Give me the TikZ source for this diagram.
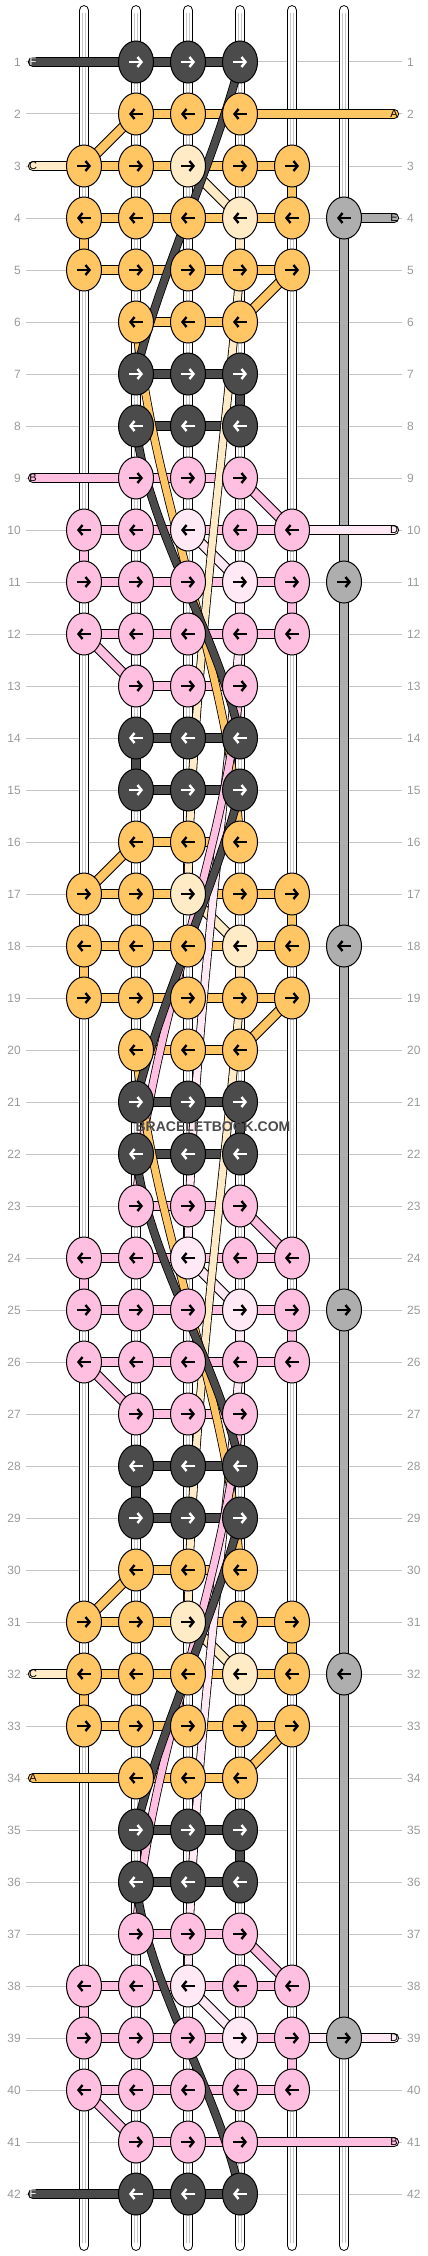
\documentclass[tikz,border=0pt]{standalone}
\usepackage{fontspec}
\setmainfont{Liberation Sans}
\usepackage{tikz}
\usetikzlibrary{shapes.geometric, arrows.meta}

\definecolor{kdark}{HTML}{4B4B4B}
\definecolor{korange}{HTML}{FFC663}
\definecolor{kcream}{HTML}{FFEBC6}
\definecolor{kpink}{HTML}{FFBFE1}
\definecolor{klight}{HTML}{FFE9F4}
\definecolor{kgray}{HTML}{AEAEAE}
\definecolor{rowline}{HTML}{C4C4C4}
\definecolor{tubeline}{HTML}{C8C8C8}
\definecolor{numgray}{HTML}{9A9A9A}

\pgfdeclarelayer{lines}
\pgfdeclarelayer{tubes}
\pgfdeclarelayer{bars}
\pgfdeclarelayer{floats}
\pgfsetlayers{lines,tubes,bars,floats,main}

\begin{document}
\begin{tikzpicture}[x=1pt, y=-1pt]
            % Define knot and strand styles
            \tikzset{
              knot/.style={draw, ellipse, line width=1pt, minimum width=35pt, minimum height=42pt, inner sep=0pt, fill=#1},
              knarrow/.style={draw=#1, line width=2.4pt, -{Straight Barb[length=4pt, width=10pt]}},
              goright/.style={path picture={\draw[knarrow=#1] ([xshift=-7pt]path picture bounding box.center) -- ([xshift=7pt]path picture bounding box.center);}},
              goleft/.style={path picture={\draw[knarrow=#1] ([xshift=7pt]path picture bounding box.center) -- ([xshift=-7pt]path picture bounding box.center);}},
              bR/.style={goright=black}, bL/.style={goleft=black},
              wR/.style={goright=white}, wL/.style={goleft=white},
              kbar/.style={line width=1pt, double=#1, double distance=8.3pt},
              loose/.style={line width=0.8pt, double=#1, double distance=7pt},
              tube/.style={line width=1pt, double=white, double distance=8.8pt, line cap=round},
              endtag/.style={font=\fontsize{11}{11}\selectfont, inner sep=0pt},
              rownum/.style={font=\fontsize{12}{12}\selectfont, text=numgray, inner sep=0pt}
            }
            \useasboundingbox (0,0) rectangle (428,2256);

            % Knots, one block of 14 rows repeated three times
            \foreach \p in {0,14,28}{
              \foreach \r/\dir/\ks in {
                1/wR/{2/kdark,3/kdark,4/kdark},
                2/bL/{2/korange,3/korange,4/korange},
                3/bR/{1/korange,2/korange,3/kcream,4/korange,5/korange},
                4/bL/{1/korange,2/korange,3/korange,4/kcream,5/korange,6/kgray},
                5/bR/{1/korange,2/korange,3/korange,4/korange,5/korange},
                6/bL/{2/korange,3/korange,4/korange},
                7/wR/{2/kdark,3/kdark,4/kdark},
                8/wL/{2/kdark,3/kdark,4/kdark},
                9/bR/{2/kpink,3/kpink,4/kpink},
                10/bL/{1/kpink,2/kpink,3/klight,4/kpink,5/kpink},
                11/bR/{1/kpink,2/kpink,3/kpink,4/klight,5/kpink,6/kgray},
                12/bL/{1/kpink,2/kpink,3/kpink,4/kpink,5/kpink},
                13/bR/{2/kpink,3/kpink,4/kpink},
                14/wL/{2/kdark,3/kdark,4/kdark}}{
                \pgfmathtruncatemacro{\row}{\p+\r}
                \foreach \c/\f in \ks
                  \node[knot=\f, \dir] (k\row-\c) at (32+52*\c, 10+52*\row) {};
              }
            }

            % Strand ends with letters
            \node[endtag, text=white] (tF1) at (33,62) {F};
            \node[endtag] (tA1) at (394,114) {A};
            \node[endtag] (tC1) at (33,166) {C};
            \node[endtag] (tE1) at (394,218) {E};
            \node[endtag] (tB1) at (33,478) {B};
            \node[endtag] (tD1) at (394,530) {D};
            \node[endtag] (tC2) at (33,1674) {C};
            \node[endtag] (tA2) at (33,1778) {A};
            \node[endtag] (tD2) at (394,2038) {D};
            \node[endtag] (tB2) at (394,2142) {B};
            \node[endtag, text=white] (tF2) at (33,2194) {F};

            \node[font=\bfseries\fontsize{14}{14}\selectfont, text=kdark, inner sep=0pt] (mark) at (213,1127) {BRACELETBOOK.COM};

            % Row guides and numbers
            \begin{pgfonlayer}{lines}
              \fill[white] (0,0) rectangle (428,2256);
              \foreach \row in {1,...,42}{
                \draw[rowline, line width=1pt] (26,10+52*\row) -- (402,10+52*\row);
                \node[rownum, anchor=east] (nl\row) at (21,10+52*\row) {\row};
                \node[rownum, anchor=west] (nr\row) at (407,10+52*\row) {\row};
              }
            \end{pgfonlayer}

            % Empty tracks and the side strand
            \begin{pgfonlayer}{tubes}
              \foreach \c in {1,...,6}{
                \draw[tube] (32+52*\c,10.5) -- (32+52*\c,2245.5);
                \draw[draw=tubeline, line width=0.7pt, double=white, double distance=2.6pt] (32+52*\c,13) -- (32+52*\c,2243);
              }
              \draw[line width=1pt, double=kgray, double distance=8.8pt] (k4-6.center) -- (k39-6.center);
            \end{pgfonlayer}

            % Strands between knots
            \begin{pgfonlayer}{bars}
              \foreach \p in {0,14,28}{
                \foreach \r/\a/\b/\f in {1/2/4/kdark, 2/2/4/korange, 3/1/5/korange, 4/1/5/korange, 5/1/5/korange, 6/2/4/korange, 7/2/4/kdark, 8/2/4/kdark, 9/2/4/kpink, 10/1/5/kpink, 11/1/5/kpink, 12/1/5/kpink, 13/2/4/kpink, 14/2/4/kdark}{
                  \pgfmathtruncatemacro{\row}{\p+\r}
                  \draw[kbar=\f] (k\row-\a.center) -- (k\row-\b.center);
                }
                \foreach \r/\c/\f/\last in {3/5/korange/1, 4/1/korange/1, 4/4/kcream/0, 7/4/kdark/1, 10/1/kpink/1, 11/4/klight/0, 11/5/kpink/1, 14/2/kdark/0}{
                  \pgfmathtruncatemacro{\row}{\p+\r}
                  \pgfmathtruncatemacro{\nxt}{\row+1}
                  \pgfmathtruncatemacro{\keep}{(\p<28)||(\last==1)}
                  \ifnum\keep=1 \draw[kbar=\f] (k\row-\c.center) -- (k\nxt-\c.center); \fi
                }
                \foreach \r/\a/\b/\f in {2/2/1/korange, 3/3/4/kcream, 5/5/4/korange, 9/4/5/kpink, 10/3/4/klight, 12/1/2/kpink}{
                  \pgfmathtruncatemacro{\row}{\p+\r}
                  \pgfmathtruncatemacro{\nxt}{\row+1}
                  \draw[kbar=\f] (k\row-\a.center) -- (k\nxt-\b.center);
                }
              }
              \draw[kbar=kdark, line cap=round] (tF1.center) -- (k1-2.center);
              \draw[kbar=korange, line cap=round] (k2-4.center) -- (tA1.center);
              \draw[kbar=kcream, line cap=round] (tC1.center) -- (k3-1.center);
              \draw[kbar=kgray, line cap=round] (k4-6.center) -- (tE1.center);
              \draw[kbar=kpink, line cap=round] (tB1.center) -- (k9-2.center);
              \draw[kbar=klight, line cap=round] (k10-5.center) -- (tD1.center);
              \draw[kbar=kcream, line cap=round] (tC2.center) -- (k32-1.center);
              \draw[kbar=korange, line cap=round] (tA2.center) -- (k34-2.center);
              \draw[kbar=klight, line cap=round] (k39-5.center) -- (tD2.center);
              \draw[kbar=kpink, line cap=round] (k41-4.center) -- (tB2.center);
              \draw[kbar=kdark, line cap=round] (tF2.center) -- (k42-2.center);
            \end{pgfonlayer}

            % Strands carried behind the knots
            \begin{pgfonlayer}{floats}
              \foreach \p in {0,14}{
                \pgfmathtruncatemacro{\ra}{\p+5}  \pgfmathtruncatemacro{\rb}{\p+17}
                \pgfmathtruncatemacro{\rc}{\p+12} \pgfmathtruncatemacro{\rd}{\p+24}
                \pgfmathtruncatemacro{\re}{\p+6}  \pgfmathtruncatemacro{\rf}{\p+16}
                \pgfmathtruncatemacro{\rg}{\p+13} \pgfmathtruncatemacro{\rh}{\p+23}
                \draw[loose=kcream] (k\ra-4.center) .. controls +(-12,150) and +(2,-200) .. (k\rb-3.center);
                \draw[loose=klight] (k\rc-4.center) .. controls +(-12,150) and +(2,-200) .. (k\rd-3.center);
                \draw[loose=korange] (k\re-2.center) .. controls +(15,170) and +(-10,-170) .. (k\rf-4.center);
                \draw[loose=kpink] (k\rg-4.center) .. controls +(-15,170) and +(10,-170) .. (k\rh-2.center);
              }
              \foreach \p in {0,14,28}{
                \pgfmathtruncatemacro{\ra}{\p+1} \pgfmathtruncatemacro{\rb}{\p+7}
                \pgfmathtruncatemacro{\rc}{\p+8} \pgfmathtruncatemacro{\rd}{\p+14}
                \draw[loose=kdark] (k\ra-4.center) .. controls +(-22,90) and +(20,-90) .. (k\rb-2.center);
                \draw[loose=kdark] (k\rc-2.center) .. controls +(10,100) and +(-20,-100) .. (k\rd-4.center);
              }
            \end{pgfonlayer}
\end{tikzpicture}
\end{document}
